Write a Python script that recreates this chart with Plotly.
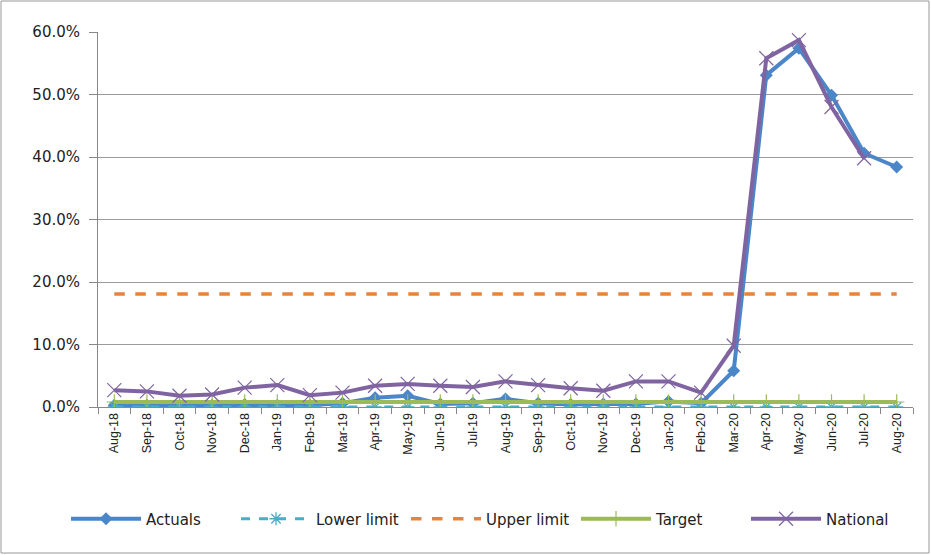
import plotly.graph_objects as go

months = ["Aug-18","Sep-18","Oct-18","Nov-18","Dec-18","Jan-19","Feb-19","Mar-19","Apr-19","May-19",
          "Jun-19","Jul-19","Aug-19","Sep-19","Oct-19","Nov-19","Dec-19","Jan-20","Feb-20","Mar-20",
          "Apr-20","May-20","Jun-20","Jul-20","Aug-20"]
actuals = [0.003,0.003,0.003,0.003,0.004,0.003,0.003,0.006,0.015,0.018,
           0.005,0.006,0.013,0.006,0.004,0.005,0.005,0.009,0.006,0.058,
           0.531,0.574,0.499,0.406,0.384]
lower_limit = [0.0]*25
upper_limit = [0.181]*25
target = [0.008]*25
national = [0.027,0.025,0.018,0.020,0.031,0.035,0.019,0.023,0.034,0.037,
            0.034,0.032,0.041,0.035,0.030,0.026,0.041,0.041,0.023,0.098,
            0.558,0.587,0.480,0.398,None]

fig = go.Figure()
fig.add_trace(go.Scatter(x=months, y=actuals, name="Actuals", mode="lines+markers",
    line=dict(color="#4A86C8", width=4), marker=dict(symbol="diamond", size=10, color="#4A86C8")))
fig.add_trace(go.Scatter(x=months, y=lower_limit, name="Lower limit", mode="lines+markers",
    line=dict(color="#4BACC6", width=3, dash="dash"),
    marker=dict(symbol="asterisk-open", size=11, color="#4BACC6", line=dict(width=1.3, color="#4BACC6"))))
fig.add_trace(go.Scatter(x=months, y=upper_limit, name="Upper limit", mode="lines",
    line=dict(color="#E8833A", width=3.5, dash="dash")))
fig.add_trace(go.Scatter(x=months, y=target, name="Target", mode="lines+markers",
    line=dict(color="#9BBB59", width=4),
    marker=dict(symbol="cross-thin-open", size=11, color="#9BBB59", line=dict(width=1.2, color="#9BBB59"))))
fig.add_trace(go.Scatter(x=months, y=national, name="National", mode="lines+markers",
    line=dict(color="#8064A2", width=4),
    marker=dict(symbol="x-thin-open", size=14, color="#8064A2", line=dict(width=1.2, color="#8064A2"))))

L, R, T, B = 98, 18, 32, 148
W, H = 931, 555
pw, ph = W - L - R, H - T - B

fig.update_layout(
    width=W, height=H,
    margin=dict(l=L, r=R, t=T, b=B, autoexpand=False),
    paper_bgcolor="white", plot_bgcolor="white",
    font=dict(family="Liberation Sans, Arial, sans-serif", size=12, color="#222222"),
    showlegend=True,
    legend=dict(orientation="h", x=(66 - L) / pw, xanchor="left", y=-(519 - (H - B)) / ph, yanchor="middle",
                font=dict(family="DejaVu Sans, sans-serif", size=15, color="#222222"),
                itemwidth=70, entrywidth=85, entrywidthmode="pixels", traceorder="normal"),
    xaxis=dict(type="category", showline=True, linecolor="#888888", linewidth=1,
               ticks="outside", tickson="boundaries", ticklen=6, tickcolor="#888888",
               tickangle=-90, tickfont=dict(size=12.5), showgrid=False, range=[-0.5, 24.5],
               automargin=False),
    yaxis=dict(range=[0, 0.6], dtick=0.1, tickformat=".1%", showline=True, linecolor="#888888",
               ticks="outside", ticklen=8, tickcolor="#888888", gridcolor="#9A9A9A", gridwidth=1,
               tickfont=dict(family="DejaVu Sans, sans-serif", size=15, color="#222222"),
               ticklabelstandoff=6, zeroline=False, automargin=False),
    shapes=[dict(type="rect", xref="paper", yref="paper",
                 x0=-(L - 1) / pw, x1=(W - 2 - L) / pw,
                 y0=-(H - 2 - (H - B)) / ph, y1=(H - B - 1) / ph,
                 line=dict(color="#999999", width=1), fillcolor="rgba(0,0,0,0)", layer="below")],
)

fig.write_html("out.html", config={"displayModeBar": False},
               post_script="document.body.style.margin='0';")
